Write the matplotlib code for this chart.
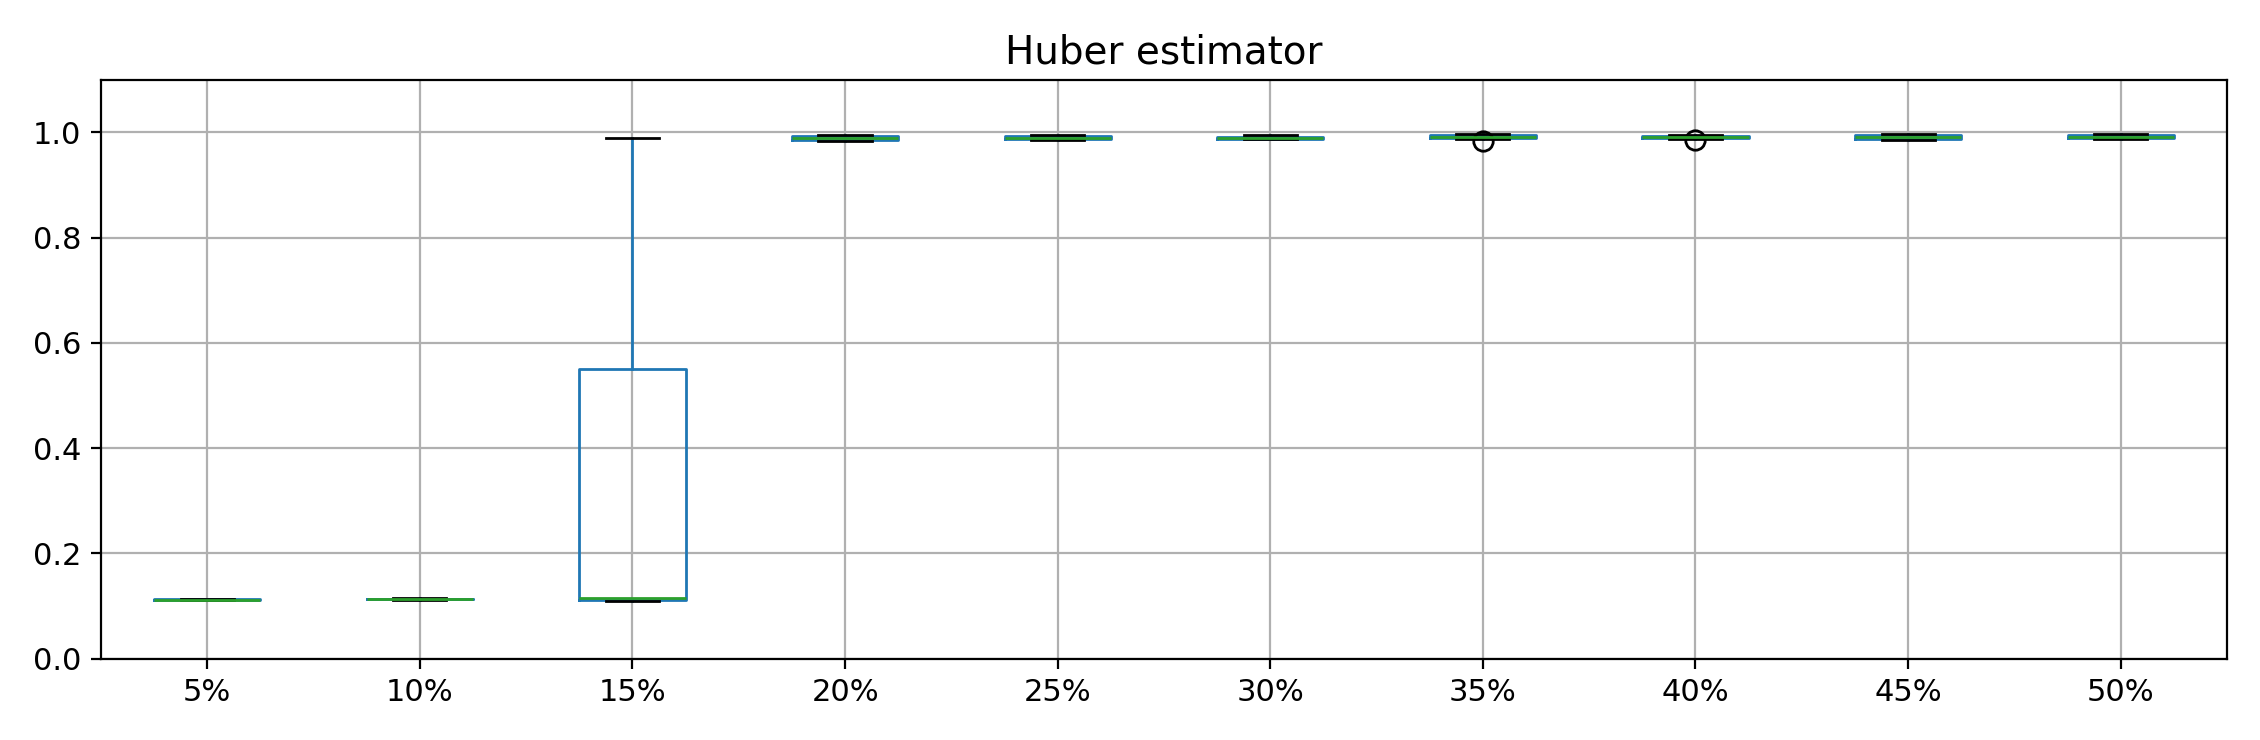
import matplotlib
matplotlib.use('Agg')
import matplotlib.pyplot as plt

labels = ['5%', '10%', '15%', '20%', '25%', '30%', '35%', '40%', '45%', '50%']
whislo = [0.111, 0.112, 0.110, 0.983, 0.985, 0.987, 0.988, 0.988, 0.986, 0.988]
q1 = [0.112, 0.113, 0.112, 0.986, 0.987, 0.988, 0.989, 0.989, 0.988, 0.989]
med = [0.112, 0.113, 0.115, 0.989, 0.990, 0.990, 0.991, 0.991, 0.991, 0.991]
q3 = [0.113, 0.114, 0.551, 0.993, 0.993, 0.992, 0.994, 0.993, 0.994, 0.994]
whishi = [0.114, 0.115, 0.990, 0.995, 0.995, 0.994, 0.996, 0.995, 0.996, 0.996]
fliers = [[], [], [], [], [], [], [0.983], [0.985], [], []]

stats = []
for i, lab in enumerate(labels):
    stats.append(dict(label=lab, whislo=whislo[i], q1=q1[i], med=med[i],
                      q3=q3[i], whishi=whishi[i], fliers=fliers[i]))

plt.rcParams['font.size'] = 11
fig, ax = plt.subplots(figsize=(11.3, 3.7), dpi=200)
ax.bxp(stats,
       boxprops=dict(color='C0'), whiskerprops=dict(color='C0'),
       medianprops=dict(color='C2'), capprops=dict(color='black'),
       flierprops=dict(marker='o', markerfacecolor='none',
                       markeredgecolor='black', markersize=7))
ax.grid(True, color='#b0b0b0')
ax.set_axisbelow(True)
ax.set_ylim(0, 1.1)
ax.set_title('Huber estimator', fontsize=14)
fig.tight_layout()
fig.savefig('out.png')
